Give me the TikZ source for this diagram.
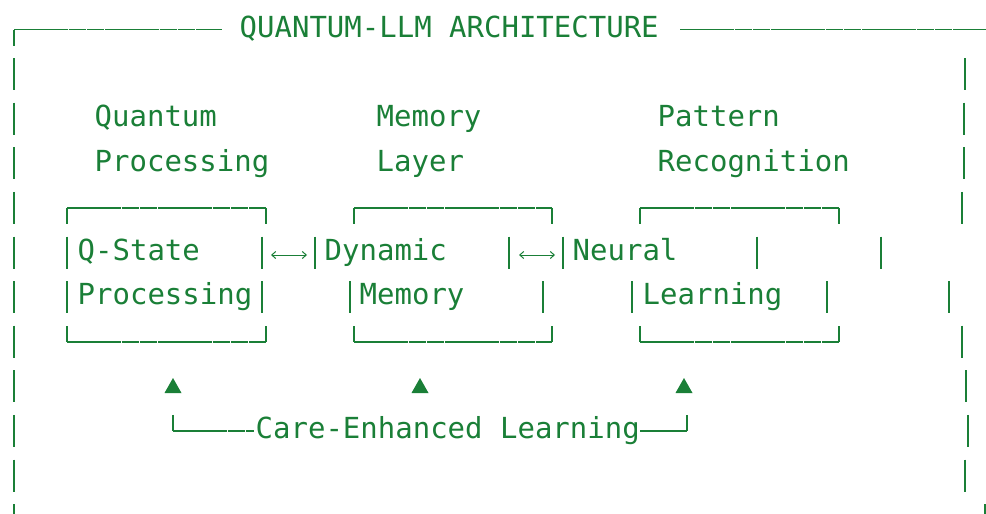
\documentclass[tikz,border=0pt]{standalone}
\usepackage{fontspec}
\newfontfamily\qmono{DejaVu Sans Mono}
\usetikzlibrary{arrows.meta}
\definecolor{qgreen}{HTML}{1A7F37}
\begin{document}
\begin{tikzpicture}[x=1pt,y=-1pt,
  ink/.style={draw=qgreen,line width=1.8pt},
  rule/.style={draw=qgreen,line width=1.8pt,dash pattern=on 17.6pt off 0.6pt},
  lbl/.style={text=qgreen,font=\qmono\fontsize{29}{29}\selectfont,inner sep=0pt,anchor=base west},
  dbl/.style={draw=qgreen,line width=1pt,{Straight Barb[length=4pt,width=7pt]}-{Straight Barb[length=4pt,width=7pt]}},
  tri/.style={fill=qgreen}]
\useasboundingbox (0,0) rectangle (986,514);
% ---------- title line ----------
\node[lbl] (title) at (239.5,37.3) {QUANTUM-LLM ARCHITECTURE};
\draw[ink] (14,45.5) -- (14,29.5);
\draw[rule] (14,29.5) -- (222,29.5);
\draw[rule] (680,29.5) -- (990,29.5);
% ---------- outer left bars ----------
\foreach \c in {74.1,118.7,163.3,207.9,252.5,297.1,341.7,386.3,430.9,475.5,520.1}
  \draw[ink] (14,\c-16) -- (14,\c+16);
% ---------- outer right bars (misaligned as in the picture) ----------
\foreach \x/\c in {965/74.1,964/118.7,964/163.3,962/207.9,881/252.5,949/297.1,962/341.7,966/386.3,968/430.9,965/475.5,985/520.1}
  \draw[ink] (\x,\c-16) -- (\x,\c+16);
% ---------- column headings ----------
\node[lbl] (qa) at (94.5,126.5) {Quantum};
\node[lbl] (qb) at (94.5,171.1) {Processing};
\node[lbl] (ma) at (376.5,126.5) {Memory};
\node[lbl] (mb) at (376.5,171.1) {Layer};
\node[lbl] (pa) at (657.5,126.5) {Pattern};
\node[lbl] (pb) at (657.5,171.1) {Recognition};
% ---------- box tops ----------
\foreach \l/\r in {67/266,354/552,640/839}{
  \draw[rule] (\l,207.9) -- (\r,207.9);
  \draw[ink] (\l,207.9) -- (\l,223.9);
  \draw[ink] (\r,207.9) -- (\r,223.9);
}
% ---------- box bottoms ----------
\foreach \l/\r in {67/266,354/552,640/839}{
  \draw[rule] (\l,341.7) -- (\r,341.7);
  \draw[ink] (\l,341.7) -- (\l,325.7);
  \draw[ink] (\r,341.7) -- (\r,325.7);
}
% ---------- box contents ----------
\node[lbl] (s1a) at (77.5,260.3) {Q-State};
\node[lbl] (s1b) at (77.5,304.9) {Processing};
\node[lbl] (s2a) at (324.5,260.3) {Dynamic};
\node[lbl] (s2b) at (359.5,304.9) {Memory};
\node[lbl] (s3a) at (572.5,260.3) {Neural};
\node[lbl] (s3b) at (642.5,304.9) {Learning};
\foreach \x in {67,262,315,509,563,757}
  \draw[ink] (\x,236.5) -- (\x,268.5);
\foreach \x in {67,262,350,543,632,827}
  \draw[ink] (\x,281.1) -- (\x,313.1);
% ---------- double arrows ----------
\coordinate (a1l) at (271,255);
\coordinate (a1r) at (307,255);
\coordinate (a2l) at (519,255);
\coordinate (a2r) at (555,255);
\draw[dbl] (a1l) -- (a1r);
\draw[dbl] (a2l) -- (a2r);
% ---------- up triangles ----------
\foreach \x in {173,420,684}
  \fill[tri] (\x-8.5,393) -- (\x+8.5,393) -- (\x,378) -- cycle;
% ---------- care-enhanced learning ----------
\node[lbl] (care) at (255.5,438.7) {Care-Enhanced Learning};
\coordinate (cl) at (173,430.9);
\coordinate (cr) at (687,430.9);
\draw[ink] (173,414.9) -- (cl);
\draw[rule] (cl) -- (254,430.9);
\draw[rule] (640,430.9) -- (cr);
\draw[ink] (cr) -- (687,414.9);
\end{tikzpicture}
\end{document}
